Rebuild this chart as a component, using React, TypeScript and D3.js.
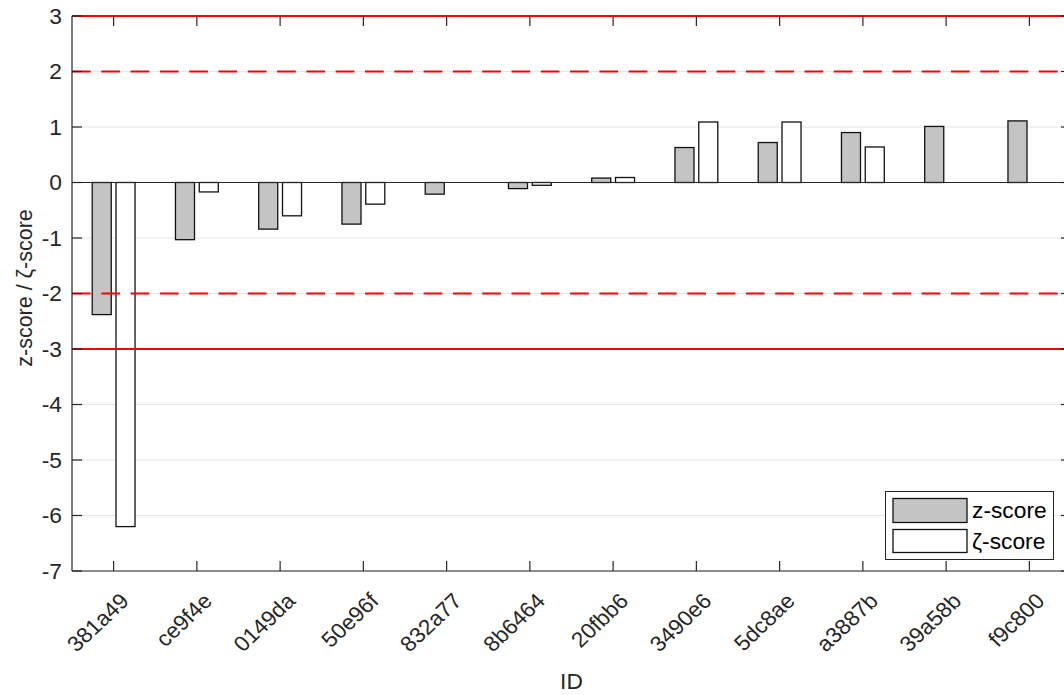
import React from "react";
import * as d3 from "d3";

const ids = ["381a49", "ce9f4e", "0149da", "50e96f", "832a77", "8b6464", "20fbb6", "3490e6", "5dc8ae", "a3887b", "39a58b", "f9c800"];
const zScores = [-2.38, -1.03, -0.84, -0.75, -0.21, -0.11, 0.08, 0.63, 0.72, 0.9, 1.01, 1.11];
const zetaScores = [-6.2, -0.17, -0.6, -0.39, 0, -0.05, 0.09, 1.09, 1.09, 0.64, 0, 0];
const yTicks = [-7, -6, -5, -4, -3, -2, -1, 0, 1, 2, 3];
const solidLimits = [3, -3];
const dashedLimits = [2, -2];

const W = 1064;
const H = 695;
const left = 72;
const right = 1071;
const top = 16;
const bottom = 571;
const font = "'Liberation Sans', Arial, Helvetica, sans-serif";
const axisColor = "#262626";
const fs = 21.5;
const sx = 1.06;

export default function App() {
  const x = d3.scaleLinear().domain([0.5, ids.length + 0.5]).range([left, right]);
  const y = d3.scaleLinear().domain([-7, 3]).range([bottom, top]);
  const barW = x(0.2286) - x(0);
  const offset = 0.1429;

  const bar = (v: number, i: number, dx: number, fill: string, key: string) => {
    if (v === 0) return null;
    const cx = x(i + 1 + dx);
    const y0 = y(0);
    const y1 = y(v);
    return (
      <rect
        key={key}
        x={cx - barW / 2}
        y={Math.min(y0, y1)}
        width={barW}
        height={Math.abs(y1 - y0)}
        fill={fill}
        stroke="#111"
        strokeWidth={1.3}
      />
    );
  };

  return (
    <svg width={W} height={H} style={{ position: "absolute", left: 0, top: 0, background: "#fff" }} fontFamily={font}>
      <defs>
        <clipPath id="plotClip">
          <rect x={left} y={top - 2} width={right - left} height={bottom - top + 4} />
        </clipPath>
      </defs>
      {/* grid */}
      {yTicks.map((t) => (
        <line key={"g" + t} x1={left} x2={right} y1={y(t)} y2={y(t)} stroke="#e6e6e6" strokeWidth={1} />
      ))}
      {/* bars */}
      <g clipPath="url(#plotClip)">
        {zScores.map((v, i) => bar(v, i, -offset, "#c4c4c4", "z" + i))}
        {zetaScores.map((v, i) => bar(v, i, offset, "#ffffff", "q" + i))}
        {/* baseline */}
        <line x1={left} x2={right} y1={y(0)} y2={y(0)} stroke={axisColor} strokeWidth={1.2} />
        {/* limit lines */}
        {solidLimits.map((t) => (
          <line key={"s" + t} x1={left} x2={right} y1={y(t)} y2={y(t)} stroke="#ff0000" strokeWidth={2} />
        ))}
        {dashedLimits.map((t) => (
          <line key={"d" + t} x1={left} x2={right} y1={y(t)} y2={y(t)} stroke="#ff0000" strokeWidth={2} strokeDasharray="18.7,10.6" />
        ))}
      </g>
      {/* axes */}
      <line x1={left} x2={left} y1={top} y2={bottom} stroke={axisColor} strokeWidth={1.2} />
      <line x1={left} x2={right} y1={bottom} y2={bottom} stroke={axisColor} strokeWidth={1.2} />
      {yTicks.map((t) => (
        <g key={"yt" + t}>
          <line x1={left} x2={left + 10} y1={y(t)} y2={y(t)} stroke={axisColor} strokeWidth={1.2} />
          <line x1={right} x2={right - 10} y1={y(t)} y2={y(t)} stroke={axisColor} strokeWidth={1.2} />
          <text
            transform={`translate(${left - 10},${y(t)}) scale(${sx},1)`}
            dy="0.35em"
            textAnchor="end"
            fontSize={fs}
            fill={axisColor}
          >
            {t}
          </text>
        </g>
      ))}
      {ids.map((id, i) => {
        const tx = x(i + 1);
        return (
          <g key={"xt" + id}>
            <line x1={tx} x2={tx} y1={bottom} y2={bottom - 10} stroke={axisColor} strokeWidth={1.2} />
            <line x1={tx} x2={tx} y1={top} y2={top + 10} stroke={axisColor} strokeWidth={1.2} />
            <text
              transform={`translate(${tx + 11},${bottom + 26}) scale(${sx},1) rotate(-45)`}
              dy="0.35em"
              textAnchor="end"
              fontSize={fs}
              fill={axisColor}
            >
              {id}
            </text>
          </g>
        );
      })}
      {/* axis titles */}
      <text transform={`translate(${(left + right) / 2},689) scale(${sx},1)`} textAnchor="middle" fontSize={fs} fill={axisColor}>
        ID
      </text>
      <text transform={`translate(32,288) scale(${sx},1) rotate(-90)`} textAnchor="middle" fontSize={fs} fill={axisColor}>
        z-score / ζ-score
      </text>
      {/* legend */}
      <g>
        <rect x={885.5} y={491.5} width={168} height={68} fill="#fff" stroke="#262626" strokeWidth={1} />
        <rect x={893} y={498.5} width={74} height={24} fill="#c4c4c4" stroke="#111" strokeWidth={1.3} />
        <rect x={893} y={529.5} width={74} height={23} fill="#fff" stroke="#111" strokeWidth={1.3} />
        <text transform={`translate(972,510.5) scale(${sx},1)`} dy="0.35em" fontSize={fs} fill="#000">z-score</text>
        <text transform={`translate(972,541) scale(${sx},1)`} dy="0.35em" fontSize={fs} fill="#000">ζ-score</text>
      </g>
    </svg>
  );
}
